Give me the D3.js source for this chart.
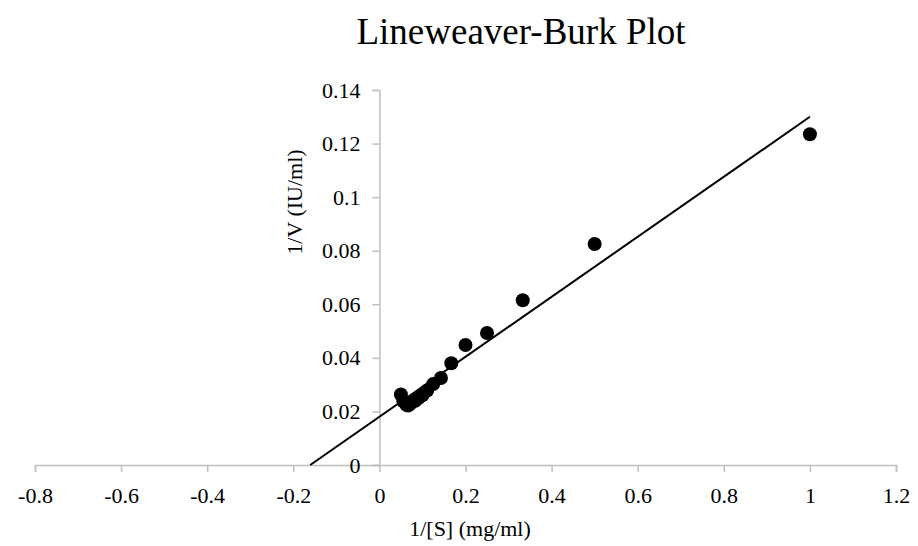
<!DOCTYPE html>
<html>
<head>
<meta charset="utf-8">
<script src="https://cdn.jsdelivr.net/npm/d3@7"></script>
<style>
  html, body { margin: 0; padding: 0; background: #fff; }
  svg { display: block; }
  text { font-family: "Liberation Serif", "Times New Roman", serif; fill: #000; }
</style>
</head>
<body>
<svg id="chart" width="918" height="546"></svg>
<script>
// 1/[S] (mg/ml) and 1/V (IU/ml) measurements
const invS = [1, 0.5, 0.333, 0.25, 0.2, 0.167, 0.143, 0.125, 0.111, 0.1, 0.0909, 0.0833, 0.0714, 0.0667, 0.0625, 0.0556, 0.05];
const invV = [0.1235, 0.0825, 0.0615, 0.0493, 0.0448, 0.038, 0.0325, 0.0302, 0.0278, 0.026, 0.025, 0.024, 0.0228, 0.0222, 0.0225, 0.0238, 0.0263];

// Linear trendline (slope, intercept) and its drawn extent in x
const trendSlope = 0.112;
const trendIntercept = 0.018;
const trendExtent = [-0.1607, 1];

const xTicks = [-0.8, -0.6, -0.4, -0.2, 0, 0.2, 0.4, 0.6, 0.8, 1, 1.2];
const yTicks = [0, 0.02, 0.04, 0.06, 0.08, 0.1, 0.12, 0.14];

const svg = d3.select("#chart");

const x = d3.scaleLinear().domain([-0.8, 1.2]).range([35, 896]);
const y = d3.scaleLinear().domain([0, 0.14]).range([465, 90]);

const axisColor = "#bfbfbf";
// plain hyphen for negatives, as in the spreadsheet labels
const fmt = d => String(+d.toFixed(2));

// Title
svg.append("text")
  .attr("x", 521).attr("y", 44)
  .attr("text-anchor", "middle")
  .style("font-size", "37px")
  .text("Lineweaver-Burk Plot");

// X axis through y = 0
const xAxis = svg.append("g")
  .attr("transform", `translate(0,${y(0)})`)
  .call(d3.axisBottom(x).tickValues(xTicks).tickSize(7).tickFormat(fmt));
xAxis.select(".domain").attr("stroke", axisColor).attr("stroke-width", 1.5);
xAxis.selectAll(".tick line").attr("stroke", axisColor).attr("stroke-width", 1.5);
xAxis.selectAll(".tick text")
  .attr("y", 38).attr("dy", 0)
  .style("font-size", "22px")
  .style("font-family", "Liberation Serif, Times New Roman, serif")
  .attr("fill", "#000");

// Y axis through x = 0
const yAxis = svg.append("g")
  .attr("transform", `translate(${x(0)},0)`)
  .call(d3.axisLeft(y).tickValues(yTicks).tickSize(7).tickPadding(12).tickFormat(fmt));
yAxis.select(".domain").attr("stroke", axisColor).attr("stroke-width", 1.5);
yAxis.selectAll(".tick line").attr("stroke", axisColor).attr("stroke-width", 1.5);
yAxis.selectAll(".tick text")
  .style("font-size", "22px")
  .style("font-family", "Liberation Serif, Times New Roman, serif")
  .attr("fill", "#000");

// Axis titles
svg.append("text")
  .attr("x", 470).attr("y", 536)
  .attr("text-anchor", "middle")
  .style("font-size", "22px")
  .text("1/[S] (mg/ml)");

svg.append("text")
  .attr("transform", `translate(302,202) rotate(-90)`)
  .attr("text-anchor", "middle")
  .style("font-size", "22px")
  .text("1/V (IU/ml)");

// Trendline
const trend = trendExtent.map(v => [v, trendIntercept + trendSlope * v]);
svg.append("path")
  .datum(trend)
  .attr("fill", "none")
  .attr("stroke", "#000")
  .attr("stroke-width", 2)
  .attr("d", d3.line().x(d => x(d[0])).y(d => y(d[1])));

// Data points
svg.append("g")
  .selectAll("circle")
  .data(invS.map((s, i) => [s, invV[i]]))
  .join("circle")
  .attr("cx", d => x(d[0]))
  .attr("cy", d => y(d[1]))
  .attr("r", 7)
  .attr("fill", "#000");
</script>
</body>
</html>
